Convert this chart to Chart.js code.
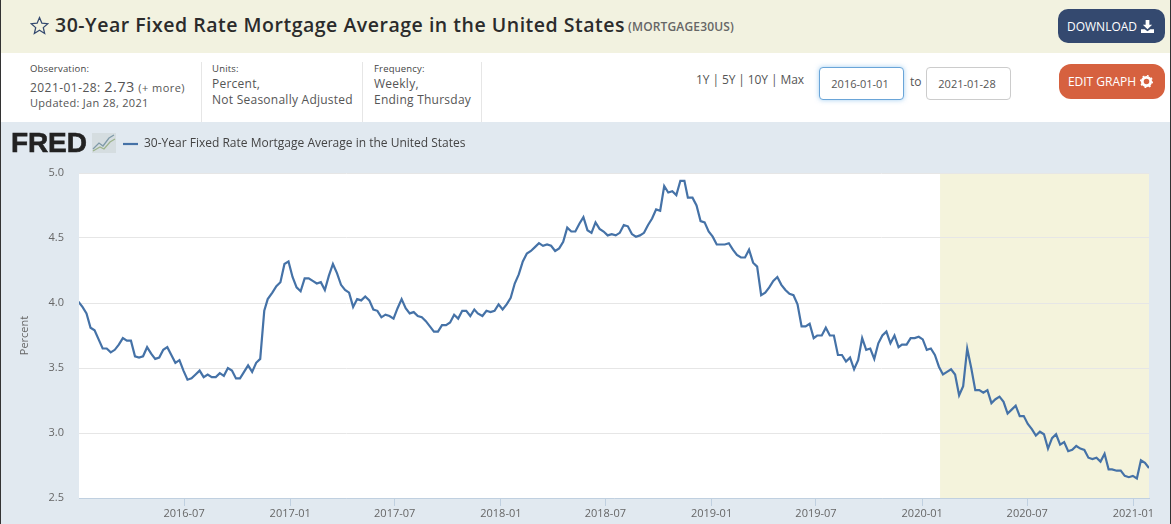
<!DOCTYPE html>
<html><head><meta charset="utf-8">
<script src="https://cdn.jsdelivr.net/npm/chart.js@4"></script>
<style>
html,body{margin:0;padding:0;width:1171px;height:524px;overflow:hidden;background:#e1e9f0;font-family:"Open Sans",sans-serif;color:#555}
.a{position:absolute;white-space:nowrap;line-height:1}
#top{position:absolute;left:0;top:0;width:1171px;height:53px;background:#f2f2e0}
#info{position:absolute;left:0;top:53px;width:1171px;height:69px;background:#fff}
#edgeL,#edgeR{position:absolute;top:0;width:1px;height:524px;background:#333;z-index:5}
#edgeL{left:0}#edgeR{right:0}
.div{position:absolute;top:62px;width:1px;height:60px;background:#e6e6e6}
.btn{position:absolute;color:#fff;font-size:12px;display:flex;align-items:center;justify-content:center;gap:4px}
.inp{position:absolute;top:67px;height:31px;width:83px;border:1px solid #ccc;border-radius:4px;background:#fff;font-size:11px;display:flex;align-items:center;justify-content:center;color:#555;padding-right:3px;box-sizing:content-box;width:80px}
.lab{font-size:9.500px;font-weight:500;color:#444;letter-spacing:.2px}
.val{font-size:12px;letter-spacing:.25px}
canvas{position:absolute;left:0;top:122px}
</style></head><body>
<div id="top"></div><div id="info"></div><div id="edgeL"></div><div id="edgeR"></div>
<svg class="a" style="left:30px;top:16px" width="19" height="19" viewBox="0 0 24 24"><path d="M12 2l3 7 7.500.7-5.700 5 1.700 7.300L12 18l-6.500 4 1.700-7.300-5.700-5L9 9z" fill="none" stroke="#34496f" stroke-width="1.600"/></svg>
<div class="a" style="left:55px;top:15px;font-size:19.500px;font-weight:600;color:#2b2b2b;letter-spacing:.51px">30-Year Fixed Rate Mortgage Average in the United States</div>
<div class="a" style="left:628px;top:21px;font-size:12px;font-weight:600;color:#666;letter-spacing:.15px">(MORTGAGE30US)</div>
<div class="btn" style="left:1058px;top:9px;width:107px;height:34px;border-radius:10px;background:#34496f;padding-right:2px;box-sizing:border-box">DOWNLOAD<svg width="13" height="13" viewBox="0 0 14 14"><path d="M5 0h4v5h3L7 10 2 5h3zM0 10h4l3 2 3-2h4v4H0z" fill="#fff"/></svg></div>
<div class="btn" style="left:1059px;top:64px;width:106px;height:35px;border-radius:12px;background:#d6613f;padding-right:3px;box-sizing:border-box">EDIT GRAPH<svg width="13" height="13" viewBox="0 0 14 14"><circle cx="7" cy="7" r="4.500" fill="none" stroke="#fff" stroke-width="3"/><circle cx="7" cy="7" r="6.300" fill="none" stroke="#fff" stroke-width="1.500" stroke-dasharray="2 2.900"/></svg></div>
<div class="a lab" style="left:30px;top:64px">Observation:</div>
<div class="a" style="left:30px;top:80px;font-size:12px;letter-spacing:.45px">2021-01-28: <span style="font-size:14.500px;font-weight:500">2.73</span> <span style="font-size:11px">(+ more)</span></div>
<div class="a" style="left:30px;top:97px;font-size:11px;letter-spacing:.3px">Updated: Jan 28, 2021</div>
<div class="div" style="left:201px"></div><div class="div" style="left:362px"></div><div class="div" style="left:481px"></div>
<div class="a lab" style="left:212px;top:64px">Units:</div>
<div class="a val" style="left:212px;top:78px">Percent,</div>
<div class="a val" style="left:212px;top:94px">Not Seasonally Adjusted</div>
<div class="a lab" style="left:374px;top:64px">Frequency:</div>
<div class="a val" style="left:374px;top:78px">Weekly,</div>
<div class="a val" style="left:374px;top:94px">Ending Thursday</div>
<div class="a" style="left:696px;top:74px;font-size:12px;letter-spacing:-.1px">1Y | 5Y | 10Y | Max</div>
<div class="inp" style="left:819px;border-color:#6aa5d8;box-shadow:0 0 5px rgba(102,175,233,.6)">2016-01-01</div>
<div class="a" style="left:910px;top:76px;font-size:12px">to</div>
<div class="inp" style="left:926px">2021-01-28</div>
<canvas id="c" width="1171" height="402"></canvas>
<div class="a" style="left:11px;top:129px;font-family:'Liberation Sans';font-weight:700;font-size:28px;letter-spacing:-.1px;color:#222;-webkit-text-stroke:.6px #222">FRED</div>
<svg class="a" style="left:92px;top:133px" width="24" height="20" viewBox="0 0 24 20"><rect width="24" height="20" fill="#d5dde0"/><path d="M1 16l6-6 4 3 6-8 5-3" fill="none" stroke="#7f9aa8" stroke-width="1.300"/><path d="M1 18l7-4 4 2 6-7 5-3" fill="none" stroke="#9db48c" stroke-width="1.300"/></svg>
<script>
const seriesName = "30-Year Fixed Rate Mortgage Average in the United States";
const tickMonths = ["2016-07","2017-01","2017-07","2018-01","2018-07","2019-01","2019-07","2020-01","2020-07","2021-01"];
const yTicks = [2.5,3.0,3.5,4.0,4.5,5.0];
const recessionStart = "2020-02-01";
const axisStart = "2016-01-01";
const axisEnd = "2021-01-28";
const dates = [
"2015-12-31",
"2016-01-07","2016-01-14","2016-01-21","2016-01-28","2016-02-04","2016-02-11","2016-02-18","2016-02-25","2016-03-03","2016-03-10","2016-03-17","2016-03-24","2016-03-31","2016-04-07","2016-04-14","2016-04-21","2016-04-28","2016-05-05","2016-05-12","2016-05-19","2016-05-26","2016-06-02","2016-06-09","2016-06-16","2016-06-23","2016-06-30","2016-07-07","2016-07-14","2016-07-21","2016-07-28","2016-08-04","2016-08-11","2016-08-18","2016-08-25","2016-09-01","2016-09-08","2016-09-15","2016-09-22","2016-09-29","2016-10-06","2016-10-13","2016-10-20","2016-10-27","2016-11-03","2016-11-10","2016-11-17","2016-11-23","2016-12-01","2016-12-08","2016-12-15","2016-12-22","2016-12-29",
"2017-01-05","2017-01-12","2017-01-19","2017-01-26","2017-02-02","2017-02-09","2017-02-16","2017-02-23","2017-03-02","2017-03-09","2017-03-16","2017-03-23","2017-03-30","2017-04-06","2017-04-13","2017-04-20","2017-04-27","2017-05-04","2017-05-11","2017-05-18","2017-05-25","2017-06-01","2017-06-08","2017-06-15","2017-06-22","2017-06-29","2017-07-06","2017-07-13","2017-07-20","2017-07-27","2017-08-03","2017-08-10","2017-08-17","2017-08-24","2017-08-31","2017-09-07","2017-09-14","2017-09-21","2017-09-28","2017-10-05","2017-10-12","2017-10-19","2017-10-26","2017-11-02","2017-11-09","2017-11-16","2017-11-22","2017-11-30","2017-12-07","2017-12-14","2017-12-21","2017-12-28",
"2018-01-04","2018-01-11","2018-01-18","2018-01-25","2018-02-01","2018-02-08","2018-02-15","2018-02-22","2018-03-01","2018-03-08","2018-03-15","2018-03-22","2018-03-29","2018-04-05","2018-04-12","2018-04-19","2018-04-26","2018-05-03","2018-05-10","2018-05-17","2018-05-24","2018-05-31","2018-06-07","2018-06-14","2018-06-21","2018-06-28","2018-07-05","2018-07-12","2018-07-19","2018-07-26","2018-08-02","2018-08-09","2018-08-16","2018-08-23","2018-08-30","2018-09-06","2018-09-13","2018-09-20","2018-09-27","2018-10-04","2018-10-11","2018-10-18","2018-10-25","2018-11-01","2018-11-08","2018-11-15","2018-11-21","2018-11-29","2018-12-06","2018-12-13","2018-12-20","2018-12-27",
"2019-01-03","2019-01-10","2019-01-17","2019-01-24","2019-01-31","2019-02-07","2019-02-14","2019-02-21","2019-02-28","2019-03-07","2019-03-14","2019-03-21","2019-03-28","2019-04-04","2019-04-11","2019-04-18","2019-04-25","2019-05-02","2019-05-09","2019-05-16","2019-05-23","2019-05-30","2019-06-06","2019-06-13","2019-06-20","2019-06-27","2019-07-03","2019-07-11","2019-07-18","2019-07-25","2019-08-01","2019-08-08","2019-08-15","2019-08-22","2019-08-29","2019-09-05","2019-09-12","2019-09-19","2019-09-26","2019-10-03","2019-10-10","2019-10-17","2019-10-24","2019-10-31","2019-11-07","2019-11-14","2019-11-21","2019-11-27","2019-12-05","2019-12-12","2019-12-19","2019-12-26",
"2020-01-02","2020-01-09","2020-01-16","2020-01-23","2020-01-30","2020-02-06","2020-02-13","2020-02-20","2020-02-27","2020-03-05","2020-03-12","2020-03-19","2020-03-26","2020-04-02","2020-04-09","2020-04-16","2020-04-23","2020-04-30","2020-05-07","2020-05-14","2020-05-21","2020-05-28","2020-06-04","2020-06-11","2020-06-18","2020-06-25","2020-07-02","2020-07-09","2020-07-16","2020-07-23","2020-07-30","2020-08-06","2020-08-13","2020-08-20","2020-08-27","2020-09-03","2020-09-10","2020-09-17","2020-09-24","2020-10-01","2020-10-08","2020-10-15","2020-10-22","2020-10-29","2020-11-05","2020-11-12","2020-11-19","2020-11-25","2020-12-03","2020-12-10","2020-12-17","2020-12-24","2020-12-31",
"2021-01-07","2021-01-14","2021-01-21","2021-01-28"];
const rates = [
4.01,
3.97,3.92,3.81,3.79,3.72,3.65,3.65,3.62,3.64,3.68,3.73,3.71,3.71,3.59,3.58,3.59,3.66,3.61,3.57,3.58,3.64,3.66,3.60,3.54,3.56,3.48,3.41,3.42,3.45,3.48,3.43,3.45,3.43,3.43,3.46,3.44,3.50,3.48,3.42,3.42,3.47,3.52,3.47,3.54,3.57,3.94,4.03,4.08,4.13,4.16,4.30,4.32,
4.20,4.12,4.09,4.19,4.19,4.17,4.15,4.16,4.10,4.21,4.30,4.23,4.14,4.10,4.08,3.97,4.03,4.02,4.05,4.02,3.95,3.94,3.89,3.91,3.90,3.88,3.96,4.03,3.96,3.92,3.93,3.90,3.89,3.86,3.82,3.78,3.78,3.83,3.83,3.85,3.91,3.88,3.94,3.94,3.90,3.95,3.92,3.90,3.94,3.93,3.94,3.99,
3.95,3.99,4.04,4.15,4.22,4.32,4.38,4.40,4.43,4.46,4.44,4.45,4.44,4.40,4.42,4.47,4.58,4.55,4.55,4.61,4.66,4.56,4.54,4.62,4.57,4.55,4.52,4.53,4.52,4.54,4.60,4.59,4.53,4.51,4.52,4.54,4.60,4.65,4.72,4.71,4.90,4.85,4.86,4.83,4.94,4.94,4.81,4.81,4.75,4.63,4.62,4.55,
4.51,4.45,4.45,4.45,4.46,4.41,4.37,4.35,4.35,4.41,4.31,4.28,4.06,4.08,4.12,4.17,4.20,4.14,4.10,4.07,4.06,3.99,3.82,3.82,3.84,3.73,3.75,3.75,3.81,3.75,3.75,3.60,3.60,3.55,3.58,3.49,3.56,3.73,3.64,3.65,3.57,3.69,3.75,3.78,3.69,3.75,3.66,3.68,3.68,3.73,3.73,3.74,
3.72,3.64,3.65,3.60,3.51,3.45,3.47,3.49,3.45,3.29,3.36,3.65,3.50,3.33,3.33,3.31,3.33,3.23,3.26,3.28,3.24,3.15,3.18,3.21,3.13,3.13,3.07,3.03,2.98,3.01,2.99,2.88,2.96,2.99,2.91,2.93,2.86,2.87,2.90,2.88,2.87,2.81,2.80,2.81,2.78,2.84,2.72,2.72,2.71,2.71,2.67,2.66,2.67,
2.65,2.79,2.77,2.73];
if (dates.length !== rates.length) throw new Error("length mismatch " + dates.length + " " + rates.length);

const tickFont = {family:"'Open Sans'", size:11};
const bandPlugin = {
  id:'band',
  beforeDraw(chart){
    const {ctx, chartArea:a, scales:{x}} = chart;
    ctx.save();
    ctx.fillStyle='#ffffff';
    ctx.fillRect(a.left,a.top,a.right-a.left,a.bottom-a.top);
    const from = x.getPixelForValue(Date.parse(recessionStart));
    ctx.fillStyle='#f4f3dc';
    ctx.fillRect(from,a.top,a.right-from,a.bottom-a.top);
    ctx.restore();
  },
  afterLayout(chart){
    chart.legend.left = 115;
    chart.legend.top = 8;
  }
};
new Chart(document.getElementById('c'), {
  type:'line',
  plugins:[bandPlugin],
  data:{datasets:[{
    label:seriesName,
    data:dates.map((d,i)=>({x:Date.parse(d),y:rates[i]})),
    borderColor:'#4572a7', backgroundColor:'#4572a7', borderWidth:2.2, pointRadius:0, tension:0, fill:false
  }]},
  options:{
    responsive:false, animation:false,
    layout:{padding:{left:0,right:22,top:21,bottom:0}},
    plugins:{
      tooltip:{enabled:false},
      legend:{display:true,position:'top',align:'start',
        labels:{usePointStyle:true,pointStyle:'line',pointStyleWidth:15,color:'#444',font:{family:"'Open Sans'",size:12},padding:8,boxHeight:12}}
    },
    scales:{
      x:{type:'linear',min:Date.parse(axisStart),max:Date.parse(axisEnd),
        afterBuildTicks(s){s.ticks=tickMonths.map(m=>({value:Date.parse(m+'-01')}));},
        afterFit(s){s.height=26;},
        grid:{drawOnChartArea:false,drawTicks:true,tickLength:8,tickColor:'#c0d0e0'},
        border:{display:true,color:'#c0d0e0'},
        ticks:{autoSkip:false,maxRotation:0,minRotation:0,padding:1,color:'#666',font:tickFont,
          callback:v=>new Date(v).toISOString().slice(0,7)}},
      y:{min:2.5,max:5,
        afterBuildTicks(s){s.ticks=yTicks.map(v=>({value:v}));},
        afterFit(s){s.width=79;},
        grid:{color:'#e6e6e6',drawTicks:false,lineWidth:1},
        border:{display:false},
        title:{display:true,text:'Percent',color:'#666',font:tickFont,padding:{top:18,bottom:0}},
        ticks:{padding:15,color:'#666',font:tickFont,callback:v=>v.toFixed(1)}}
    }
  }
});
</script>
</body></html>
